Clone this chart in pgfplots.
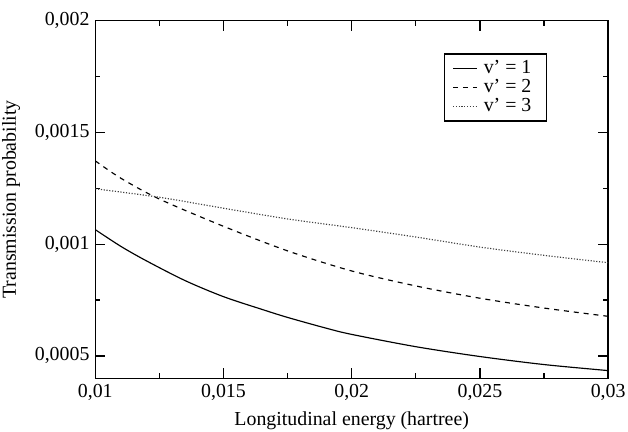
\documentclass[border=0pt]{standalone}
\usepackage{fontspec}
\setmainfont{Liberation Serif}
\usepackage{pgfplots}
\pgfplotsset{compat=1.18}

\begin{document}
\begin{tikzpicture}
  \begin{axis}[
    name=ax,
    width=310pt, height=216pt, scale only axis,
    xmin=0.01, xmax=0.03, ymin=0.0004, ymax=0.002,
    xtick={0.01,0.015,0.02,0.025,0.03},
    ytick={0.0005,0.001,0.0015,0.002},
    minor tick num=1,
    tick align=inside,
    major tick length=6pt, minor tick length=3pt,
    axis line style={line width=0.8pt},
    every tick/.style={line width=0.8pt, black},
    scaled x ticks=false, scaled y ticks=false,
    /pgf/number format/assume math mode=true,
    /pgf/number format/use comma,
    xticklabel style={/pgf/number format/fixed, /pgf/number format/precision=3},
    yticklabel style={/pgf/number format/fixed, /pgf/number format/precision=4},
    tick label style={font=\fontsize{12}{14}\selectfont},
    label style={font=\fontsize{12}{14}\selectfont},
    xlabel={Longitudinal energy (hartree)},
    ylabel={Transmission probability},
    ylabel style={yshift=2pt},
    legend cell align=left,
    legend style={at={(0.679,0.909)}, anchor=north west, draw=black,
      line width=0.8pt, font=\fontsize{12}{13}\selectfont,
      row sep=-2pt, inner xsep=5pt, nodes={inner xsep=4pt}},
    legend image code/.code={\draw[#1, line width=0.7pt] (0cm,0cm) -- (0.5cm,0cm);},
  ]
    \addplot[black, line width=0.7pt, smooth] coordinates {
      (0.010,0.001065) (0.011,0.000990) (0.012,0.000925) (0.0135,0.000837)
      (0.015,0.000765) (0.0165,0.000708) (0.0175,0.000672) (0.019,0.000624)
      (0.020,0.000596) (0.0225,0.000541) (0.025,0.000497) (0.0275,0.000461)
      (0.030,0.000434)
    };
    \addlegendentry{v’ = 1}
    \addplot[black, line width=0.7pt, dashed, smooth] coordinates {
      (0.010,0.001373) (0.011,0.001295) (0.0125,0.001202) (0.015,0.001080)
      (0.0175,0.000970) (0.020,0.000880) (0.0225,0.000813) (0.025,0.000758)
      (0.0275,0.000714) (0.030,0.000677)
    };
    \addlegendentry{v’ = 2}
    \addplot[black!75, line width=0.7pt, densely dotted, smooth] coordinates {
      (0.010,0.001248) (0.0125,0.001210) (0.015,0.001161) (0.0175,0.001113)
      (0.020,0.001074) (0.0225,0.001032) (0.025,0.000987) (0.0275,0.000950)
      (0.030,0.000917)
    };
    \addlegendentry{v’ = 3}
  \end{axis}
  \pgfresetboundingbox
  \path ([xshift=-57.6pt,yshift=-32pt]ax.south west)
    rectangle ([xshift=12pt,yshift=12.6pt]ax.north east);
\end{tikzpicture}
\end{document}
